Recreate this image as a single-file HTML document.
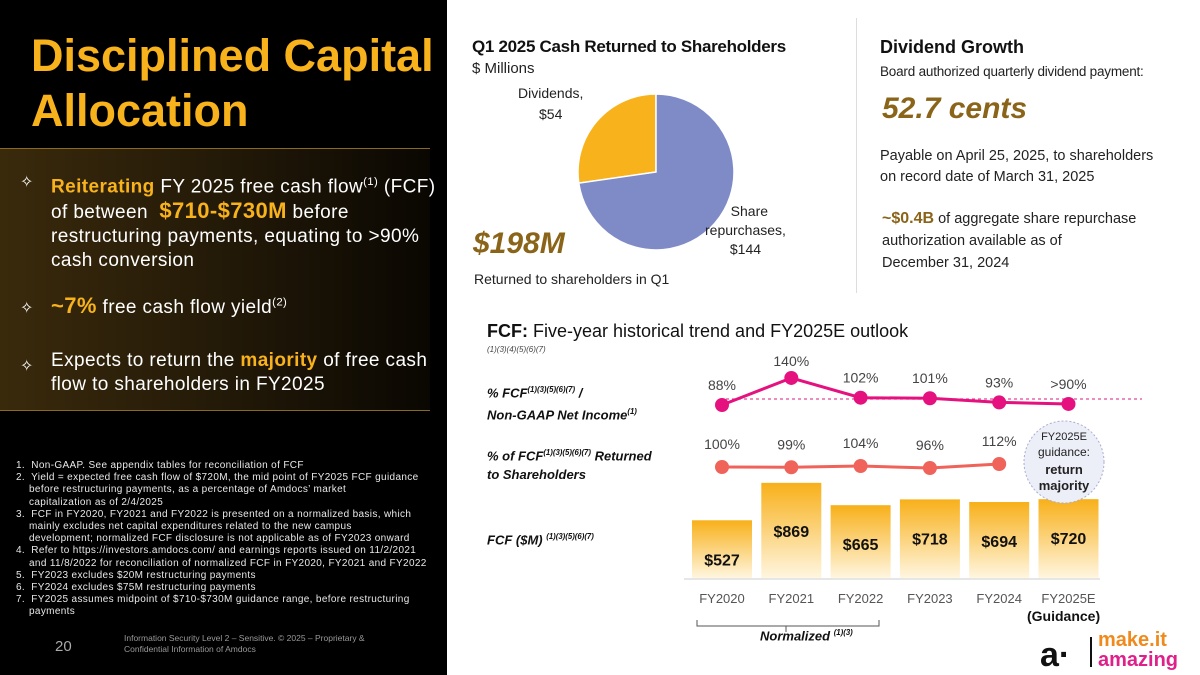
<!DOCTYPE html>
<html><head><meta charset="utf-8">
<style>
*{margin:0;padding:0;box-sizing:border-box}
body{width:1200px;height:675px;position:relative;overflow:hidden;background:#fff;font-family:"Liberation Sans",sans-serif}
.a{position:absolute;white-space:nowrap}
#left{position:absolute;left:0;top:0;width:447px;height:675px;background:#000}
.gold{color:#f8b21c}
.w{color:#fff}
sup{font-size:60%}
.star{position:absolute;color:#fff;font-size:16px}
.fn{position:absolute;left:8px;color:#e8e8e8;font-size:10px;line-height:12.2px;white-space:nowrap;letter-spacing:0.35px}
.fn div{padding-left:21px;text-indent:-13px}
</style></head><body>
<div id="left">
  <div class="a gold" style="left:31px;top:28px;font-size:45px;font-weight:bold;line-height:55px;white-space:normal;width:420px">Disciplined Capital Allocation</div>
  <div style="position:absolute;left:0;top:148px;width:430px;height:263px;background:linear-gradient(90deg,#3a2a0c 0%,#241a08 50%,#0a0702 100%);border-top:1px solid #8a6a20;border-bottom:1px solid #8a6a20"></div>
  <div class="star" style="left:20px;top:172px">✧</div>
  <div class="a w" style="left:51px;top:170px;font-size:19px;line-height:24px;letter-spacing:0.4px"><b class="gold">Reiterating</b> FY 2025 free cash flow<sup>(1)</sup> (FCF)<br>of between &nbsp;<b class="gold" style="font-size:22px">$710-$730M</b> before<br>restructuring payments, equating to &gt;90%<br>cash conversion</div>
  <div class="star" style="left:20px;top:298px">✧</div>
  <div class="a w" style="left:51px;top:293px;font-size:19px;letter-spacing:0.4px"><b class="gold" style="font-size:22px">~7%</b> free cash flow yield<sup>(2)</sup></div>
  <div class="star" style="left:20px;top:356px">✧</div>
  <div class="a w" style="left:51px;top:349px;font-size:19px;line-height:24px;letter-spacing:0.4px">Expects to return the <b class="gold">majority</b> of free cash<br>flow to shareholders in FY2025</div>
  <div class="fn" style="top:460px;width:440px">
    <div>1.&nbsp; Non-GAAP. See appendix tables for reconciliation of FCF</div>
    <div>2.&nbsp; Yield = expected free cash flow of $720M, the mid point of FY2025 FCF guidance<br>before restructuring payments, as a percentage of Amdocs’ market<br>capitalization as of 2/4/2025</div>
    <div>3.&nbsp; FCF in FY2020, FY2021 and FY2022 is presented on a normalized basis, which<br>mainly excludes net capital expenditures related to the new campus<br>development; normalized FCF disclosure is not applicable as of FY2023 onward</div>
    <div>4.&nbsp; Refer to https://investors.amdocs.com/ and earnings reports issued on 11/2/2021<br>and 11/8/2022 for reconciliation of normalized FCF in FY2020, FY2021 and FY2022</div>
    <div>5.&nbsp; FY2023 excludes $20M restructuring payments</div>
    <div>6.&nbsp; FY2024 excludes $75M restructuring payments</div>
    <div>7.&nbsp; FY2025 assumes midpoint of $710-$730M guidance range, before restructuring<br>payments</div>
  </div>
  <div class="a" style="left:55px;top:638px;color:#aaa;font-size:15px">20</div>
  <div class="a" style="left:124px;top:633px;color:#999;font-size:8.5px;line-height:11px">Information Security Level 2 – Sensitive. © 2025 – Proprietary &amp;<br>Confidential Information of Amdocs</div>
</div>

<div class="a" style="left:472px;top:37px;font-size:17px;font-weight:bold;color:#111;letter-spacing:-0.3px">Q1 2025 Cash Returned to Shareholders</div>
<div class="a" style="left:472px;top:60px;font-size:15px;color:#222">$ Millions</div>
<svg class="a" style="left:560px;top:85px" width="260" height="180" id="pie"></svg>
<div class="a" style="left:518px;top:83px;font-size:14px;color:#222;text-align:center;line-height:21px">Dividends,<br>$54</div>
<div class="a" style="left:705px;top:202px;font-size:14px;color:#222;text-align:center;line-height:19px">&nbsp;&nbsp;Share<br>repurchases,<br>$144</div>
<div class="a" style="left:473px;top:227px;font-size:30px;font-weight:bold;font-style:italic;color:#8a6418">$198M</div>
<div class="a" style="left:474px;top:271px;font-size:14px;color:#222">Returned to shareholders in Q1</div>

<div style="position:absolute;left:856px;top:18px;width:1px;height:275px;background:#ddd"></div>
<div class="a" style="left:880px;top:37px;font-size:18px;font-weight:bold;color:#111">Dividend Growth</div>
<div class="a" style="left:880px;top:64px;font-size:13.5px;color:#222;letter-spacing:-0.2px">Board authorized quarterly dividend payment:</div>
<div class="a" style="left:882px;top:92px;font-size:30px;font-weight:bold;font-style:italic;color:#8a6418">52.7 cents</div>
<div class="a" style="left:880px;top:146px;font-size:14.5px;color:#222;line-height:21px">Payable on April 25, 2025, to shareholders<br>on record date of March 31, 2025</div>
<div class="a" style="left:882px;top:208px;font-size:14.5px;color:#222;line-height:22px"><b style="color:#8a6418;font-size:16px">~$0.4B</b> of aggregate share repurchase<br>authorization available as of<br>December 31, 2024</div>

<div class="a" style="left:487px;top:321px;font-size:18px;color:#111"><b>FCF:</b> Five-year historical trend and FY2025E outlook</div>
<div class="a" style="left:487px;top:345px;font-size:8px;font-style:italic;color:#444">(1)(3)(4)(5)(6)(7)</div>
<div class="a" style="left:487px;top:380px;font-size:13px;font-weight:bold;font-style:italic;color:#111;line-height:19px">% FCF<sup>(1)(3)(5)(6)(7)</sup> /<br>Non-GAAP Net Income<sup>(1)</sup></div>
<div class="a" style="left:487px;top:443px;font-size:13px;font-weight:bold;font-style:italic;color:#111;line-height:19px">% of FCF<sup>(1)(3)(5)(6)(7)</sup> Returned<br>to Shareholders</div>
<div class="a" style="left:487px;top:532px;font-size:13px;font-weight:bold;font-style:italic;color:#111">FCF ($M) <sup>(1)(3)(5)(6)(7)</sup></div>

<svg class="a" style="left:0;top:0" width="1200" height="675" id="chart">
  <defs><linearGradient id="bg" x1="0" y1="0" x2="0" y2="1"><stop offset="0" stop-color="#f8b01a"/><stop offset="1" stop-color="#fff6e0"/></linearGradient></defs>
</svg>
<div class="a" style="left:1027px;top:608px;font-size:14px;font-weight:bold;color:#111">(Guidance)</div>
<div class="a" style="left:760px;top:628px;font-size:13px;font-weight:bold;font-style:italic;color:#111">Normalized <sup>(1)(3)</sup></div>
<div class="a" style="left:1040px;top:640px;font-size:34px;font-weight:bold;color:#111;line-height:30px">a·</div>
<div style="position:absolute;left:1090px;top:637px;width:2px;height:30px;background:#111"></div>
<div class="a" style="left:1098px;top:630px;font-size:20px;font-weight:bold;line-height:20px;color:#f08a1c">make.it<br><span style="color:#e0208a">amazing</span></div>

<script>
const NS='http://www.w3.org/2000/svg';
const pieLabels=['Dividends','Share repurchases'];
const pieValues=[54,144];
const years=['FY2020','FY2021','FY2022','FY2023','FY2024','FY2025E'];
const convLabels=['88%','140%','102%','101%','93%','>90%'];
const convValues=[88,140,102,101,93,90];
const retLabels=['100%','99%','104%','96%','112%'];
const retValues=[100,99,104,96,112];
const fcfLabels=['$527','$869','$665','$718','$694','$720'];
const fcfValues=[527,869,665,718,694,720];

function mk(p,t,a){const e=document.createElementNS(NS,t);for(const k in a)e.setAttribute(k,a[k]);p.appendChild(e);return e;}
const pie=document.getElementById('pie');
const cx=96,cy=87,rx=78,ry=78;
const tot=pieValues.reduce((a,b)=>a+b,0);
const cols=['#f8b21b','#7f8bc6'];
let ang=0;
pieValues.forEach((v,i)=>{
  const a0=ang,a1=ang-v/tot*2*Math.PI;ang=a1;
  const p0=[cx+rx*Math.sin(a0),cy-ry*Math.cos(a0)],p1=[cx+rx*Math.sin(a1),cy-ry*Math.cos(a1)];
  const large=v/tot>0.5?1:0;
  const s=mk(pie,'path',{d:`M${cx},${cy}L${p0[0]},${p0[1]}A${rx},${ry} 0 ${large} 0 ${p1[0]},${p1[1]}Z`,fill:cols[i],stroke:'#fff','stroke-width':1.5});
  
  
});
const ch=document.getElementById('chart');
const xc=i=>722+i*69.3;
const base=578;
const yBar=v=>base-v*0.1095;
const yConv=v=>405-(v-88)*0.52;
const yRet=v=>467-(v-100)*0.25;
years.forEach((y,i)=>{
  const r=mk(ch,'rect',{x:xc(i)-30,y:yBar(fcfValues[i]),width:60,height:base-yBar(fcfValues[i]),fill:'url(#bg)'});
  
  
  const t=mk(ch,'text',{x:xc(i),y:yBar(fcfValues[i])+(i==1?54:45),'text-anchor':'middle','font-size':16,'font-weight':'bold',fill:'#111'});t.textContent=fcfLabels[i];
  
  
  const l=mk(ch,'text',{x:xc(i),y:603,'text-anchor':'middle','font-size':13,fill:'#555'});l.textContent=y;
  
  
});
mk(ch,'line',{x1:684,y1:base+1,x2:1100,y2:base+1,stroke:'#ddd','stroke-width':1.5});
mk(ch,'line',{x1:720,y1:399,x2:1142,y2:399,stroke:'#e0489a','stroke-width':1.3,'stroke-dasharray':'3,3'});
mk(ch,'polyline',{points:convValues.map((v,i)=>xc(i)+','+yConv(v)).join(' '),fill:'none',stroke:'#e5117f','stroke-width':3});
convValues.forEach((v,i)=>{
  const c=mk(ch,'circle',{cx:xc(i),cy:yConv(v),r:7,fill:'#e5117f'});
  
  
  const t=mk(ch,'text',{x:xc(i),y:yConv(v)-(i==1?12:15),'text-anchor':'middle','font-size':14,fill:'#444'});t.textContent=convLabels[i];
  
  
});
mk(ch,'polyline',{points:retValues.map((v,i)=>xc(i)+','+yRet(v)).join(' '),fill:'none',stroke:'#f0635a','stroke-width':3});
retValues.forEach((v,i)=>{
  const c=mk(ch,'circle',{cx:xc(i),cy:yRet(v),r:7,fill:'#f0635a'});
  
  
  const t=mk(ch,'text',{x:xc(i),y:yRet(v)-18,'text-anchor':'middle','font-size':14,fill:'#444'});t.textContent=retLabels[i];
  
  
});
const g=mk(ch,'ellipse',{cx:1064,cy:462,rx:40,ry:41,fill:'#eceef8',stroke:'#a9aed0','stroke-dasharray':'2,2'});


[['FY2025E',11,'normal',440],['guidance:',12,'normal',456],['return',13,'bold',474],['majority',13,'bold',490]].forEach(d=>{
  const t=mk(ch,'text',{x:1064,y:d[3],'text-anchor':'middle','font-size':d[1],'font-weight':d[2],fill:'#222'});t.textContent=d[0];
});
mk(ch,'path',{d:'M697,620 v6 h89 v6 M786,626 h93 v-6',fill:'none',stroke:'#555','stroke-width':1});
</script>
</body></html>
